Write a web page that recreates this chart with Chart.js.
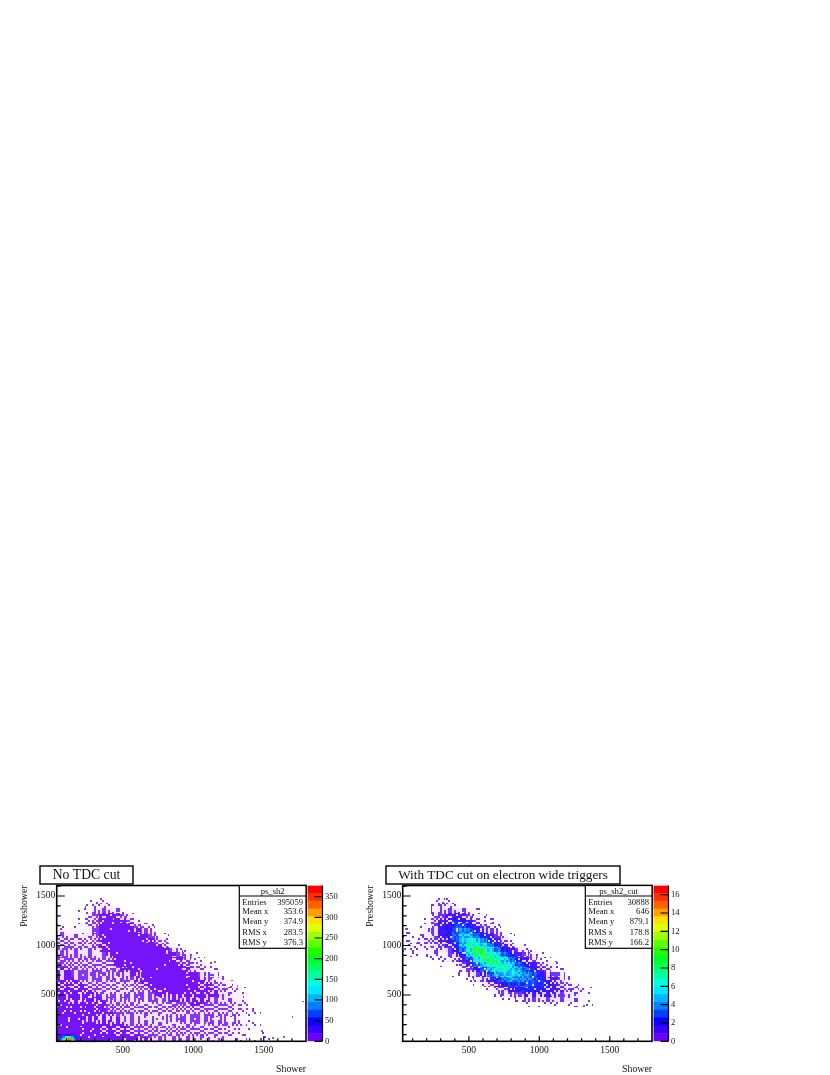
<!DOCTYPE html>
<html><head><meta charset="utf-8">
<script src="https://cdn.jsdelivr.net/npm/chart.js@4"></script>
<style>
html,body{margin:0;padding:0;background:#fff;width:830px;height:1075px;overflow:hidden}
canvas{position:absolute;display:block;filter:blur(0.35px)}
</style></head><body>
<canvas id="mainL" style="left:0;top:860px"></canvas>
<canvas id="barL" style="left:300px;top:860px"></canvas>
<canvas id="mainR" style="left:346px;top:860px"></canvas>
<canvas id="barR" style="left:646px;top:860px"></canvas>
<script>
// Bin layout: first bin lower edges (data units) and bin size
const binStart = 30, binSize = 50;
// Estimated mean bin content x10, one row per 50-unit Preshower bin, top row first, starting at Preshower 1430
const noCutRows = [
[0,0,0,0,1,1,1],
[0,0,0,0,1,2,3,2,1],
[0,0,0,1,1,4,7,6,3,1],
[0,0,0,0,2,7,14,16,11,5,2],
[0,0,0,1,2,9,22,32,26,14,6,2],
[1,0,1,2,3,8,24,44,44,30,16,7,3,1],
[2,2,2,2,3,7,22,44,54,48,30,16,8,3,1],
[4,4,4,4,4,8,18,40,56,56,44,26,14,7,3,1],
[5,5,5,5,5,7,16,34,50,60,54,40,24,14,7,3,1],
[6,6,6,6,6,7,13,28,46,66,66,54,38,24,13,6,3,1],
[7,7,7,6,6,6,10,20,36,50,56,56,48,34,22,12,6,3,1],
[7,7,7,7,6,6,7,13,26,40,48,52,52,44,32,20,11,6,3,1],
[8,8,8,7,7,6,6,9,16,28,38,44,48,48,40,28,18,10,5,2,1],
[9,9,8,8,7,7,6,6,10,18,28,36,42,46,44,36,24,15,8,4,2,1],
[10,10,9,8,8,7,7,6,7,10,18,26,34,42,46,42,32,22,13,7,4,2,1],
[10,10,9,9,8,8,7,6,6,7,11,17,26,38,46,48,42,32,20,12,7,4,2,1],
[11,11,10,9,9,8,7,6,5,6,7,11,16,26,34,38,38,36,28,18,11,7,4,2,1],
[12,12,11,10,9,9,7,6,5,5,6,7,11,17,24,28,32,32,30,24,16,11,7,4,2,1],
[14,13,12,11,10,9,8,6,5,5,5,6,7,10,15,20,24,26,26,24,19,14,10,6,3,2,1],
[17,16,14,12,11,10,9,7,6,5,5,5,6,7,10,13,15,18,20,20,16,14,10,7,4,3,2,1],
[18,17,15,13,12,11,10,8,7,6,5,5,5,6,6,8,10,12,13,14,13,11,8,7,4,3,2,1],
[18,18,16,14,12,11,10,9,7,6,6,5,5,5,6,6,7,8,9,10,10,8,7,6,4,3,2,1],
[20,18,17,15,13,12,11,9,8,7,6,6,5,5,5,6,6,7,7,8,8,7,6,6,4,3,2,1,1],
[26,24,20,17,15,13,11,10,9,8,7,6,6,5,5,5,6,6,6,7,7,6,6,5,4,3,2,1,1],
[24,22,19,17,16,14,12,11,10,9,8,7,6,6,5,5,5,6,6,6,6,6,5,5,3,3,2,1,1],
[24,23,20,18,17,16,13,12,11,10,9,8,7,6,6,5,5,5,6,6,6,5,5,5,3,3,2,1,1],
[28,26,24,22,19,17,15,13,12,11,10,9,8,7,7,6,6,6,6,6,5,5,5,5,3,3,2,1,1],
[44,40,34,28,24,19,17,15,14,12,11,10,9,8,8,7,7,7,6,6,6,5,5,5,3,2,2,1,1,1],
[70,70,46,34,28,22,18,16,15,14,12,11,10,9,8,8,7,7,7,6,6,6,5,5,3,2,2,1,1,1,1]
];
const withCutRows = [
[0,0,0,0,1,2,1],
[0,0,0,0,2,4,3,2,1],
[0,0,0,0,3,6,8,7,4,2,1],
[0,0,0,1,4,9,13,14,10,6,2,1],
[0,0,0,1,6,12,18,22,18,12,6,2,1],
[0,0,1,2,8,14,20,28,28,20,13,6,2,1],
[1,1,1,3,8,14,20,30,38,32,22,13,7,2,1],
[1,1,2,3,8,13,20,32,46,46,34,22,13,6,2,1],
[1,1,2,4,7,11,18,30,50,60,52,36,22,13,6,2,1],
[1,2,2,3,6,8,13,24,46,68,70,56,36,22,12,5,2,1],
[1,1,2,2,4,5,8,17,36,62,80,76,56,36,22,12,5,2,1],
[0,1,1,2,3,3,5,10,24,48,74,82,74,56,36,22,12,5,2,1],
[0,0,1,1,1,2,3,5,12,30,56,74,78,68,52,36,22,12,5,2,1],
[0,0,0,0,0,1,1,2,6,14,34,52,68,70,62,50,34,22,12,6,2,1],
[0,0,0,0,0,0,1,1,3,7,16,32,48,62,64,56,44,32,22,12,6,2,1],
[0,0,0,0,0,0,0,1,1,3,8,16,30,44,52,54,48,40,30,20,12,7,3,1],
[0,0,0,0,0,0,0,0,0,1,3,7,14,24,34,40,42,38,32,24,16,10,5,2,1],
[0,0,0,0,0,0,0,0,0,0,1,3,6,11,18,26,30,30,28,24,18,13,8,4,2,1],
[0,0,0,0,0,0,0,0,0,0,0,1,2,5,9,14,18,22,22,20,16,13,10,6,3,2,1],
[0,0,0,0,0,0,0,0,0,0,0,0,1,2,4,6,9,12,13,14,13,11,9,6,4,2,1],
[0,0,0,0,0,0,0,0,0,0,0,0,0,0,1,1,3,5,6,6,7,7,6,5,3,2,1],
[0,0,0,0,0,0,0,0,0,0,0,0,0,0,0,0,0,1,1,1,2,2,1,1,1,0,1]
];
const topRowStart = 1430;
// Hot spot at low Shower/Preshower on the first panel, 20-unit bins, real z values
const hotStartX = 30, hotStartY = 30, hotBin = 20;
const hotRows = [
[0,20,30,40,40,30,20,0],
[20,40,80,130,140,100,50,20],
[30,70,170,300,330,200,80,30],
[40,90,200,370,370,260,100,40]
];
// Isolated entries [Shower, Preshower]
const noCutStrays = [[1774,426],[1699,271],[1640,68],[1147,826],[1308,584],[1480,130],[1560,60],[1420,330],[1350,470],[1270,640]];
const withCutStrays = [[1310,380],[1112,830],[46,1156]];

const titleL = "No TDC cut", titleR = "With TDC cut on electron wide triggers";
const histL = "ps_sh2", histR = "ps_sh2_cut";
const statLabels = ["Entries","Mean x","Mean y","RMS x","RMS y"];
const statsL = ["395059","353.6","374.9","283.5","376.3"];
const statsR = ["30888","646","879.1","178.8","166.2"];
const xLabel = "Shower", yLabel = "Preshower";
const zMaxL = 377, zMaxR = 17;
const zStepL = 50, zStepR = 2;
const palette = ['#6a00f8','#3c00ff','#0c00ff','#0040ff','#0080ff','#00b4ff','#00e8ff','#00ffd8','#00ffa0','#00ff60','#00ff20','#20ff00','#60ff00','#a0ff00','#e0ff00','#ffe000','#ffa000','#ff6000','#ff3000','#ff0000'];

const SERIF = '"Liberation Serif","Times New Roman",serif';
const INK = '#111';
function rgb(h){return [1,3,5].map(i=>parseInt(h.substr(i,2),16));}
function bandRGB(z,zMax){
  let p=Math.max(0,z/zMax*20-0.5); p=Math.min(p,19);
  const i=Math.floor(p),f=p-i,a=rgb(palette[i]),b=rgb(palette[Math.min(i+1,19)]);
  return a.map((v,k)=>v+(b[k]-v)*f);
}
function css(c){return `rgb(${c.map(Math.round).join(',')})`;}
function tint(c,a){return c.map(v=>255+(v-255)*a);}
function toCells(rows){
  const out=[];
  rows.forEach((row,r)=>row.forEach((v,c)=>{ if(v>0) out.push({x:binStart+c*binSize,y:topRowStart-r*binSize,z:v/10}); }));
  return out;
}
function toHot(){
  const out=[];
  hotRows.forEach((row,r)=>row.forEach((v,c)=>{ if(v>0) out.push({x:hotStartX+c*hotBin,y:hotStartY+(hotRows.length-1-r)*hotBin,z:v}); }));
  return out;
}
const BLOCK=2;
function frac(v){return v-Math.floor(v);}
// ordered dither threshold used to render partly filled bins
function mask(bx,by){const u=bx+(by*by)%11,v=by+(bx*bx)%7;return frac(52.9829189*frac(0.06711056*u+0.00583715*v));}
const cellsPlugin={id:'cells',beforeDatasetsDraw(ch){
  const {ctx,chartArea:a,scales:{x,y}}=ch;
  ctx.save();ctx.beginPath();ctx.rect(a.left,a.top,a.width,a.height);ctx.clip();
  ch.data.datasets.forEach(d=>{
    d.data.forEach(p=>{
      const x0=Math.round(x.getPixelForValue(p.x)),x1=Math.round(x.getPixelForValue(p.x+d.binW));
      const y0=Math.round(y.getPixelForValue(p.y+d.binH)),y1=Math.round(y.getPixelForValue(p.y));
      const w=Math.max(1,x1-x0),h=Math.max(1,y1-y0);
      if(d.solid){ctx.fillStyle=css(tint(bandRGB(p.z,d.zMax),.7));ctx.fillRect(x0,y0,w,h);return;}
      // a bin's mean content decides how many of its pixels are filled and their shade
      const cov=1-Math.exp(-p.z*1.05);
      for(let py=y0-(y0%BLOCK);py<y0+h;py+=BLOCK)for(let px=x0-(x0%BLOCK);px<x0+w;px+=BLOCK){
        const t=mask(px/BLOCK,py/BLOCK);
        const l=Math.max(px,x0),r=Math.min(px+BLOCK,x0+w),u=Math.max(py,y0),b=Math.min(py+BLOCK,y0+h);
        if(d.hot||cov>t){
          const zz=d.hot?p.z:Math.max(p.z,1)*(.72+.56*frac(t*7));
          ctx.fillStyle=css(tint(bandRGB(zz,d.zMax),p.z<1?.8:.92));ctx.fillRect(l,u,r-l,b-u);
        } else if(cov>.12){
          ctx.fillStyle=css(tint(bandRGB(1,d.zMax),cov*.22));ctx.fillRect(l,u,r-l,b-u);
        }
      }
    });
  });
  ctx.restore();
}};
function frameTicksPlugin(opts){return {id:'frameTicks',afterDatasetsDraw(ch){
  const {ctx,chartArea:a,scales:{x,y}}=ch;
  ctx.save();
  ctx.strokeStyle='#000';ctx.lineWidth=1.2;
  ctx.beginPath();
  x.ticks.forEach(t=>{const px=x.getPixelForValue(t.value);if(px<=a.left||px>=a.right)return;const l=t.value%500===0?5:3;ctx.moveTo(px,a.bottom);ctx.lineTo(px,a.bottom-l);});
  y.ticks.forEach(t=>{const py=y.getPixelForValue(t.value);if(py<=a.top||py>=a.bottom)return;const l=t.value%500===0?8:4;ctx.moveTo(a.left,py);ctx.lineTo(a.left+l,py);});
  ctx.stroke();
  ctx.lineWidth=1.6;ctx.strokeRect(a.left,a.top,a.width,a.height);
  // title box
  ctx.fillStyle='#fff';ctx.lineWidth=1.4;
  ctx.fillRect(opts.tx,6,opts.tw,18);ctx.strokeRect(opts.tx,6,opts.tw,18);
  ctx.fillStyle='#111';ctx.font=`${opts.tf}px ${SERIF}`;ctx.textAlign='center';ctx.textBaseline='middle';
  ctx.fillText(opts.title,opts.tx+opts.tw/2,15.5);
  // stats box
  const bx=a.right-66.7,by=a.top,bw=66.7,bh=62.8;
  ctx.fillStyle='#fff';ctx.lineWidth=1.2;ctx.fillRect(bx,by,bw,bh);ctx.strokeRect(bx,by,bw,bh);
  ctx.beginPath();ctx.moveTo(bx,by+10.5);ctx.lineTo(bx+bw,by+10.5);ctx.stroke();
  ctx.fillStyle=INK;ctx.font=`8.6px ${SERIF}`;ctx.textAlign='center';
  ctx.fillText(opts.hist,bx+bw/2,by+5.8);
  const rowsY=[16.8,26.6,36.6,47,57.3];
  statLabels.forEach((s,i)=>{
    ctx.textAlign='left';ctx.fillText(s,bx+3,by+rowsY[i]);
    ctx.textAlign='right';ctx.fillText(opts.stats[i],bx+bw-3,by+rowsY[i]);
  });
  ctx.restore();
}};}
function makeMain(id,rows,strays,zMax,extra,opts){
  const cv=document.getElementById(id);cv.width=346;cv.height=215;cv.style.width='346px';cv.style.height='215px';
  const L=opts.left,R=opts.right;
  const strayPts=strays.map(s=>({x:s[0],y:s[1],z:1}));
  const datasets=[
    {label:'cells',data:toCells(rows),binW:binSize,binH:binSize,zMax,pointRadius:0,showLine:false},
    {label:'strays',data:strayPts,binW:12,binH:16,zMax,solid:true,pointRadius:0,showLine:false}
  ];
  if(extra) datasets.push({label:'hot',data:extra,binW:hotBin,binH:hotBin,zMax,hot:true,pointRadius:0,showLine:false});
  return new Chart(cv,{type:'scatter',data:{datasets},
    plugins:[cellsPlugin,frameTicksPlugin(opts)],
    options:{responsive:false,animation:false,
      layout:{padding:{left:0,right:346-R,top:25.5,bottom:0}},
      plugins:{legend:{display:false},tooltip:{enabled:false}},
      scales:{
        x:{type:'linear',min:30,max:1800,afterFit(s){s.height=33.7;},
          grid:{display:false,drawTicks:false},border:{display:false},
          ticks:{stepSize:100,includeBounds:false,autoSkip:false,maxRotation:0,minRotation:0,padding:3,color:INK,font:{family:SERIF,size:9.5},
            callback:v=>v%500===0?String(v):''},
          title:{display:true,text:xLabel,align:'end',color:INK,font:{family:SERIF,size:9.8},padding:{top:-1.2,bottom:0}}},
        y:{type:'linear',min:32,max:1606,afterFit(s){s.width=L;},
          grid:{display:false,drawTicks:false},border:{display:false},
          ticks:{stepSize:100,includeBounds:false,autoSkip:false,padding:1.5,color:INK,font:{family:SERIF,size:9.5},
            callback:v=>v%500===0?String(v):''},
          title:{display:true,text:yLabel,align:'end',color:INK,font:{family:SERIF,size:9.8},padding:{top:19,bottom:0}}}
      }}});
}
function makeBar(id,zMax,step){
  const cv=document.getElementById(id);cv.width=46;cv.height=215;cv.style.width='46px';cv.style.height='215px';
  const band=zMax/palette.length;
  const datasets=palette.map((c,i)=>({data:[band],backgroundColor:c,barPercentage:1,categoryPercentage:1,borderWidth:0}));
  const inward={id:'inward',afterDatasetsDraw(ch){
    const {ctx,chartArea:a,scales:{y}}=ch;ctx.save();ctx.strokeStyle='#000';ctx.lineWidth=1.2;ctx.beginPath();
    y.ticks.forEach(t=>{const py=y.getPixelForValue(t.value);ctx.moveTo(a.right,py);ctx.lineTo(a.right-8,py);});
    ctx.moveTo(a.right,a.top);ctx.lineTo(a.right,a.bottom);ctx.stroke();ctx.restore();
  }};
  return new Chart(cv,{type:'bar',data:{labels:['z'],datasets},plugins:[inward],
    options:{responsive:false,animation:false,
      layout:{padding:{left:7.5,right:0,top:25.5,bottom:33.7}},
      plugins:{legend:{display:false},tooltip:{enabled:false}},
      scales:{
        x:{stacked:true,display:false},
        y:{stacked:true,position:'right',min:0,max:zMax,afterFit(s){s.width=23.5;},
          grid:{display:false,drawTicks:false},border:{display:false},
          ticks:{stepSize:step,includeBounds:false,padding:2.5,color:INK,font:{family:SERIF,size:8.5}}}
      }}});
}
makeMain('mainL',noCutRows,noCutStrays,zMaxL,toHot(),{left:56.7,right:306,tx:40,tw:93,tf:13.7,title:titleL,hist:histL,stats:statsL});
makeMain('mainR',withCutRows,withCutStrays,zMaxR,null,{left:56.7,right:306,tx:40,tw:234,tf:13.2,title:titleR,hist:histR,stats:statsR});
makeBar('barL',zMaxL,zStepL);
makeBar('barR',zMaxR,zStepR);
</script>
</body></html>
